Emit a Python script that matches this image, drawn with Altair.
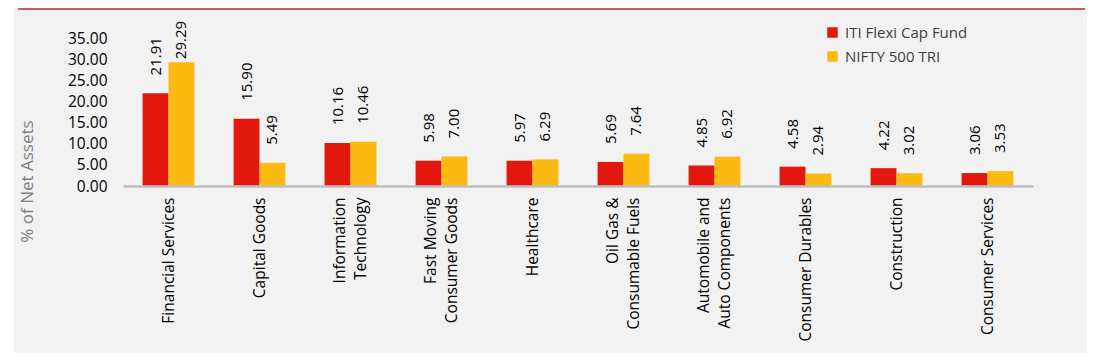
import altair as alt
import pandas as pd

categories = [
    "Financial Services", "Capital Goods", "Information|Technology",
    "Fast Moving|Consumer Goods", "Healthcare", "Oil Gas &|Consumable Fuels",
    "Automobile and|Auto Components", "Consumer Durables", "Construction",
    "Consumer Services",
]
series_names = ["ITI Flexi Cap Fund", "NIFTY 500 TRI"]
fund_values = [21.91, 15.90, 10.16, 5.98, 5.97, 5.69, 4.85, 4.58, 4.22, 3.06]
bench_values = [29.29, 5.49, 10.46, 7.00, 6.29, 7.64, 6.92, 2.94, 3.02, 3.53]
y_ticks = [0, 5, 10, 15, 20, 25, 30, 35]
colors = ["#e2180f", "#fdba12"]

rows = []
for c, f, b in zip(categories, fund_values, bench_values):
    rows.append({"sector": c, "series": series_names[0], "value": f})
    rows.append({"sector": c, "series": series_names[1], "value": b})
df = pd.DataFrame(rows)

FONT = "Open Sans"

x_axis = alt.Axis(
    title=None, labelAngle=270, labelFontSize=15.5, labelColor="#000000",
    labelFont=FONT, labelExpr="split(datum.label, '|')", labelLineHeight=21,
    labelPadding=11, ticks=False, domain=True, domainColor="#bfbfbf",
    domainWidth=2.5, grid=False, labelAlign="right", labelBaseline="middle",
    labelOffset={"expr": "indexof(datum.value, '|') >= 0 ? -10.5 : 0"},
    labelOverlap=False, zindex=1,
)
y_axis = alt.Axis(
    values=y_ticks, format=".2f", labelFontSize=15.5, labelColor="#000000",
    labelFont=FONT, labelPadding=16, ticks=False, domain=False, grid=False,
    labelOverlap=False, labelBound=False,
    title="% of Net Assets", titleFontSize=17, titleColor="#7f7f7f",
    titleFont=FONT, titleFontWeight="normal", titleAngle=270,
    titleX=-96, titleY=143, titleAlign="center", titleBaseline="middle",
    zindex=1,
)
x_scale = alt.Scale(paddingInner=0.43, paddingOuter=0.215)
y_scale = alt.Scale(domain=[0, 35], nice=False)
xo = alt.XOffset("series:N", sort=series_names)

bars = alt.Chart(df).mark_bar().encode(
    x=alt.X("sector:N", sort=categories, scale=x_scale, axis=x_axis),
    xOffset=xo,
    y=alt.Y("value:Q", scale=y_scale, axis=y_axis),
    color=alt.Color(
        "series:N", sort=series_names,
        scale=alt.Scale(domain=series_names, range=colors),
        legend=alt.Legend(
            title=None, orient="none", legendX=702, legendY=-13,
            symbolType="square", symbolSize=110, symbolStrokeWidth=0,
            labelFontSize=15, labelColor="#404040", labelFont=FONT,
            labelOffset=5, rowPadding=8, padding=0,
        ),
    ),
)

labels = alt.Chart(df).transform_calculate(
    label_y="min(datum.value + 4.25, 30)"
).mark_text(
    angle=270, align="left", baseline="middle", fontSize=15, font=FONT,
    color="#000000",
).encode(
    x=alt.X("sector:N", sort=categories, scale=x_scale, axis=x_axis),
    xOffset=xo,
    y=alt.Y("label_y:Q", scale=y_scale, axis=y_axis),
    text=alt.Text("value:Q", format=".2f"),
)

panel = alt.Chart(alt.Data(values=[{"k": 1}])).mark_rect(color="#f2f2f2").encode(
    x=alt.value(-109), x2=alt.value(964), y=alt.value(-30), y2=alt.value(315)
)
topline = alt.Chart(alt.Data(values=[{"k": 1}])).mark_rule(
    color="#c0282d", strokeWidth=1.5
).encode(
    x=alt.value(-105), x2=alt.value(962), y=alt.value(-29)
)

chart = alt.layer(panel, topline, bars, labels).properties(
    width=910, height=148,
    padding={"left": 115, "top": 30, "right": 72, "bottom": 168},
    autosize=alt.AutoSizeParams(type="none"),
    background="#ffffff",
).configure_view(stroke=None)

chart.save("out.html", embed_options={"renderer": "svg", "actions": False})
